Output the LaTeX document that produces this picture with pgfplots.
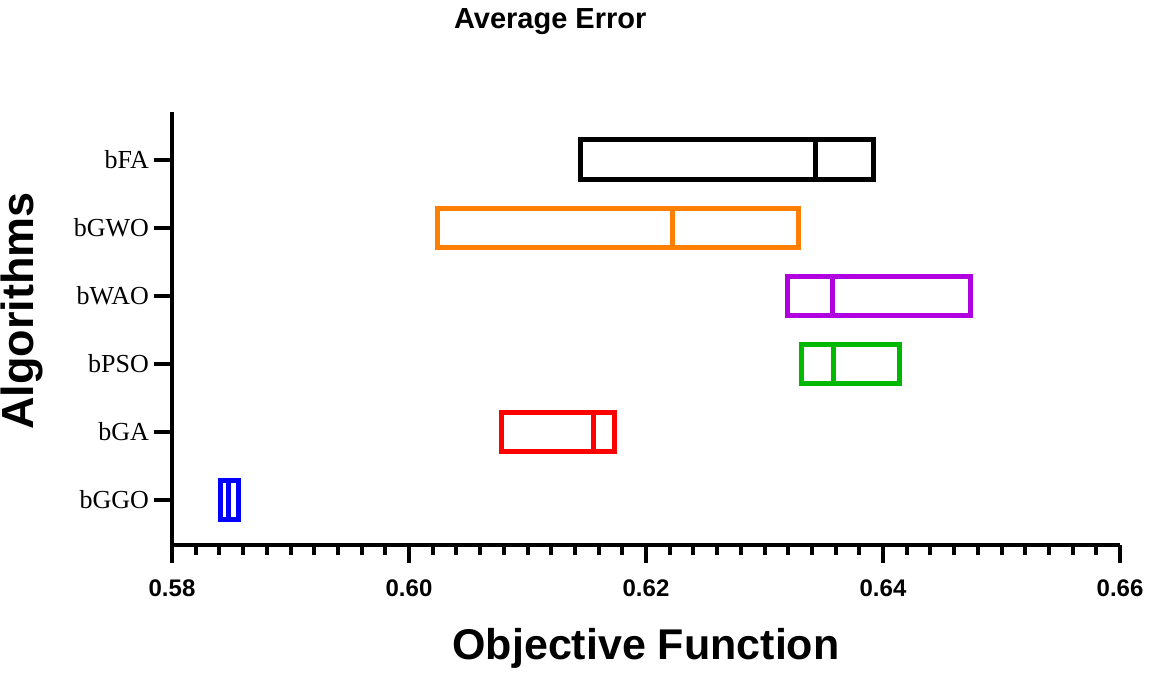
\documentclass[border=0pt]{standalone}
\usepackage{fontspec}
\setmainfont{Liberation Serif}
\newfontfamily\arial{Liberation Sans}
\usepackage{pgfplots}
\pgfplotsset{compat=1.18}
\usepgfplotslibrary{statistics}
\definecolor{cOrange}{RGB}{255,128,0}
\definecolor{cPurple}{RGB}{176,0,224}
\definecolor{cGreen}{RGB}{0,184,0}
\definecolor{cRed}{RGB}{255,0,0}
\definecolor{cBlue}{RGB}{0,0,255}
\begin{document}
\begin{tikzpicture}
\useasboundingbox (-86pt,-66pt) rectangle (489pt,272.5pt);
\begin{axis}[
  at={(0,0)}, anchor=south west,
  scale only axis, width=474pt, height=216.5pt,
  xmin=0.58, xmax=0.66, ymin=0.34, ymax=6.7,
  axis x line=bottom, axis y line=left,
  axis line style={-, line width=2pt},
  every tick/.style={black, line width=2pt},
  tick align=outside,
  major tick length=9pt, minor tick length=5pt,
  xtick={0.58,0.60,0.62,0.64,0.66},
  minor x tick num=9,
  ytick={1,2,3,4,5,6},
  yticklabels={bGGO,bGA,bPSO,bWAO,bGWO,bFA},
  /pgf/number format/assume math mode=true,
  xticklabel style={font=\arial\bfseries\fontsize{12}{14}\selectfont, /pgf/number format/fixed, /pgf/number format/zerofill, /pgf/number format/precision=2, yshift=-5pt},
  yticklabel style={font=\fontsize{13}{15}\selectfont, xshift=1pt},
  title={Average Error},
  title style={font=\arial\bfseries\fontsize{14.5}{16}\selectfont, at={(0.399,1)}, anchor=center, yshift=39pt},
  xlabel={Objective Function},
  xlabel style={font=\arial\bfseries\fontsize{21.5}{24}\selectfont, at={(0.5,0)}, anchor=center, yshift=-51.5pt},
  ylabel={Algorithms},
  ylabel style={font=\arial\bfseries\fontsize{22.5}{25}\selectfont, at={(-0.158,0.54)}, anchor=center},
  clip=false,
]
\addplot[draw=black, line width=2.5pt, boxplot prepared={lower whisker=0.6145, lower quartile=0.6145, median=0.6343, upper quartile=0.6392, upper whisker=0.6392, draw position=6, box extend=0.58, whisker extend=0}] coordinates {};
\addplot[draw=cOrange, line width=2.5pt, boxplot prepared={lower whisker=0.6024, lower quartile=0.6024, median=0.6222, upper quartile=0.6329, upper whisker=0.6329, draw position=5, box extend=0.58, whisker extend=0}] coordinates {};
\addplot[draw=cPurple, line width=2.5pt, boxplot prepared={lower whisker=0.6319, lower quartile=0.6319, median=0.6357, upper quartile=0.6474, upper whisker=0.6474, draw position=4, box extend=0.58, whisker extend=0}] coordinates {};
\addplot[draw=cGreen, line width=2.5pt, boxplot prepared={lower whisker=0.6331, lower quartile=0.6331, median=0.6358, upper quartile=0.6414, upper whisker=0.6414, draw position=3, box extend=0.58, whisker extend=0}] coordinates {};
\addplot[draw=cRed, line width=2.5pt, boxplot prepared={lower whisker=0.6078, lower quartile=0.6078, median=0.6156, upper quartile=0.6173, upper whisker=0.6173, draw position=2, box extend=0.58, whisker extend=0}] coordinates {};
\addplot[draw=cBlue, line width=2.5pt, boxplot prepared={lower whisker=0.5841, lower quartile=0.5841, median=0.5848, upper quartile=0.5856, upper whisker=0.5856, draw position=1, box extend=0.58, whisker extend=0}] coordinates {};
\end{axis}
\end{tikzpicture}
\end{document}
